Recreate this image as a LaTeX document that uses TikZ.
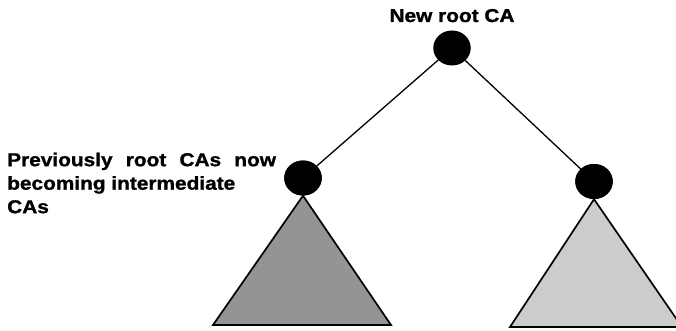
\documentclass[tikz,border=0pt]{standalone}
\usepackage{fontspec}
\setmainfont{Liberation Sans}[BoldFeatures={FakeBold=1.2}]
\usetikzlibrary{shapes.geometric}
\begin{document}
\begin{tikzpicture}[x=1pt,y=-1pt,
  ca/.style={ellipse, fill=black, minimum width=37.5pt, minimum height=35pt, inner sep=0pt},
  link/.style={line width=1.3pt},
  subtree/.style={draw=black, line width=1.7pt, line join=miter},
  lbl/.style={font=\bfseries\fontsize{18.6}{23.5}\selectfont, xscale=1.12, inner sep=0pt}]
\useasboundingbox (0,0) rectangle (676,331);
\clip (0,0) rectangle (676,331);

% certification authorities
\node[ca] (root)  at (452,48)  {};
\node[ca] (left)  at (303,178) {};
\node[ca] (right) at (594,181.5) {};

% subordinate hierarchies below the former roots
\draw[subtree, fill=black!42] (left.south)  -- (213,325) -- (391,325) -- cycle;
\draw[subtree, fill=black!20] (right.south) -- (510,327) -- (682,327) -- cycle;
\node[ca] at (left)  {};
\node[ca] at (right) {};

% cross-certification links
\draw[link] (root) -- (left);
\draw[link] (root) -- (right);

% labels
\node[lbl, anchor=base] (rootlbl) at (452,22) {New root CA};
\node[lbl, anchor=north west, align=left] (leftlbl) at (7,152.5)
  {\makebox[240pt][s]{Previously root CAs now}\\becoming intermediate\\CAs};
\end{tikzpicture}
\end{document}
